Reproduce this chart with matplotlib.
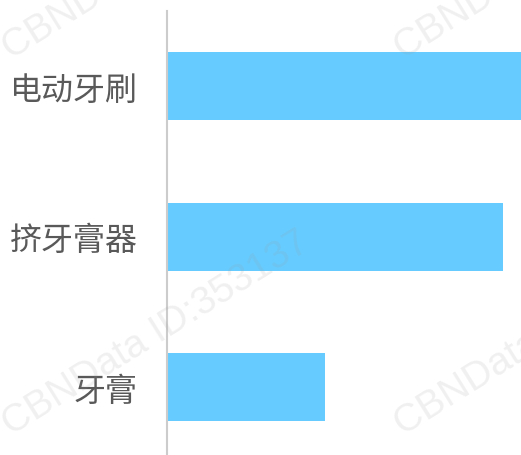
import matplotlib
matplotlib.use("Agg")
import matplotlib.pyplot as plt

# categories (top to bottom) and bar values
categories = ["电动牙刷", "挤牙膏器", "牙膏"]
values = [100, 95, 44.6]

plt.rcParams['font.family'] = ['Noto Sans CJK SC', 'DejaVu Sans']

fig = plt.figure(figsize=(5.21, 4.56), dpi=100)
ax = fig.add_axes([167 / 521, -0.0164, 354 / 521, 0.9901])

ypos = list(range(len(categories)))
ax.barh(ypos, values, height=0.45, color="#66ccff", zorder=2)

ax.set_xlim(0, 100)
ax.set_ylim(len(categories) - 0.5, -0.5)
ax.set_yticks(ypos)
ax.set_yticklabels(categories, fontsize=23, color="#595959")
ax.tick_params(axis="y", length=0, pad=21)
ax.set_xticks([])

for s in ["top", "right", "bottom"]:
    ax.spines[s].set_visible(False)
ax.spines["left"].set_color("#cccccc")
ax.spines["left"].set_linewidth(1.5)

# watermark
for (px, py) in [(6, 52), (398, 52), (6, 428), (398, 428)]:
    fig.text(px / 521, 1 - py / 456, "CBNData ID:353137", rotation=32,
             rotation_mode="anchor", ha="left", va="center",
             fontsize=28, family="Liberation Sans", color="#999999",
             alpha=0.15, zorder=10)

fig.savefig("out.png", dpi=100)
